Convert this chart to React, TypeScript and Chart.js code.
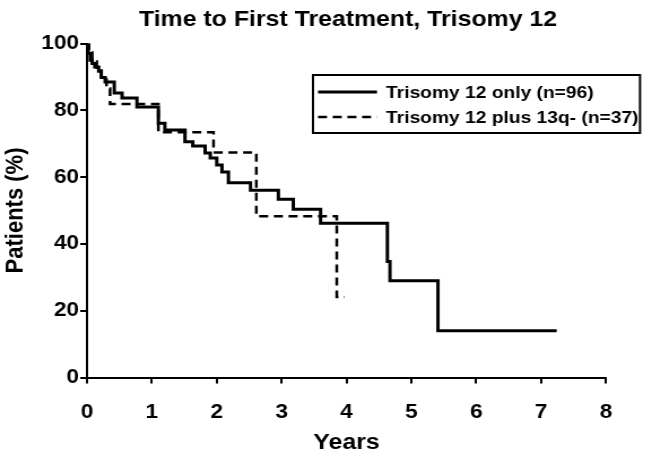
import React, { useEffect, useRef } from 'react';
import { Chart, registerables } from 'chart.js';

Chart.register(...registerables);

// ---------- data ----------
const titleText = 'Time to First Treatment, Trisomy 12';
const xTitle = 'Years';
const yTitle = 'Patients (%)';
const seriesLabels = ['Trisomy 12 only (n=96)', 'Trisomy 12 plus 13q- (n=37)'];

const xTickValues = [0, 1, 2, 3, 4, 5, 6, 7, 8];
const yTickValues = [0, 20, 40, 60, 80, 100];

const onlyTimes = [0, 0.02, 0.05, 0.08, 0.12, 0.18, 0.22, 0.28, 0.42, 0.54, 0.77, 1.1, 1.2, 1.51, 1.63, 1.82, 1.9, 2.0, 2.08, 2.18, 2.52, 2.95, 3.18, 3.6, 4.63, 4.67, 5.41, 7.24];
const onlySurv = [100, 97, 95, 94, 93, 91.7, 89.8, 88.5, 85.2, 83.7, 81.0, 76.1, 74.1, 70.6, 69.3, 67.2, 65.7, 63.6, 61.5, 58.3, 56.1, 53.4, 50.4, 46.2, 34.7, 29.0, 14.0, 14.0];

const plusTimes = [0, 0.03, 0.08, 0.15, 0.22, 0.3, 0.355, 1.1, 1.95, 2.61, 3.85, 3.97];
const plusSurv = [100, 97.3, 94.6, 91.9, 89.2, 86.5, 81.9, 73.4, 67.4, 48.3, 24.1, 24.1];

// ---------- layout ----------
const K = 1.13; // horizontal stretch of the reference
const W = Math.round(652 / K);
const H = 455;
const FONT = '"Liberation Sans", Arial, Helvetica, sans-serif';

const toPoints = (xs: number[], ys: number[]) => xs.map((x, i) => ({ x, y: ys[i] }));

const overlayPlugin = {
  id: 'overlay',
  afterDraw(chart: any) {
    const ctx = chart.ctx as CanvasRenderingContext2D;
    ctx.save();
    ctx.fillStyle = '#000';
    ctx.strokeStyle = '#000';
    // title
    ctx.font = `bold 22px ${FONT}`;
    ctx.textAlign = 'center';
    ctx.textBaseline = 'middle';
    ctx.fillText(titleText, 348 / K, 20);
    // legend box
    const bx = 313 / K, by = 75, bw = (640 - 313) / K, bh = 58;
    ctx.lineWidth = 2;
    ctx.setLineDash([]);
    ctx.strokeRect(bx, by, bw, bh);
    const rows = [92, 117];
    ctx.font = `bold 17px ${FONT}`;
    ctx.textAlign = 'left';
    chart.data.datasets.forEach((ds: any, i: number) => {
      const y = rows[i];
      ctx.beginPath();
      ctx.lineWidth = ds.borderWidth;
      ctx.setLineDash(ds.borderDash || []);
      ctx.moveTo(318 / K, y);
      ctx.lineTo(377 / K, y);
      ctx.stroke();
      ctx.setLineDash([]);
      ctx.fillText(ds.label, 386 / K, y + 1);
    });
    ctx.restore();
  },
};

export default function App() {
  const ref = useRef<HTMLCanvasElement | null>(null);

  useEffect(() => {
    document.body.style.margin = '0';
    const canvas = ref.current!;
    const tickFont = { family: FONT, size: 20, weight: 'bold' as const, lineHeight: 1.2 };
    const chart = new Chart(canvas, {
      type: 'line',
      data: {
        datasets: [
          {
            label: seriesLabels[0],
            data: toPoints(onlyTimes, onlySurv),
            borderColor: '#000',
            borderWidth: 3,
            stepped: 'before',
            pointRadius: 0,
            fill: false,
          },
          {
            label: seriesLabels[1],
            data: toPoints(plusTimes, plusSurv),
            borderColor: '#000',
            borderWidth: 2.5,
            borderDash: [8, 5],
            stepped: 'before',
            pointRadius: 0,
            fill: false,
          },
        ],
      },
      options: {
        responsive: false,
        animation: false,
        devicePixelRatio: 1,
        layout: { padding: { top: 43.5, right: W - 606 / K, left: 0, bottom: 0 } },
        plugins: {
          legend: { display: false },
          title: { display: false },
          tooltip: { enabled: false },
        },
        scales: {
          x: {
            type: 'linear',
            min: 0,
            max: 8,
            afterFit: (s: any) => { s.height = H - 377.5; },
            afterBuildTicks: (s: any) => { s.ticks = xTickValues.map((v) => ({ value: v })); },
            ticks: { font: tickFont, color: '#000', padding: 17, maxRotation: 0, autoSkip: false },
            grid: { drawOnChartArea: false, tickLength: 6, color: '#000', lineWidth: 2 },
            border: { display: true, color: '#000', width: 2 },
            title: {
              display: true,
              text: xTitle,
              color: '#000',
              font: { family: FONT, size: 22, weight: 'bold', lineHeight: 1 },
              padding: { top: 0, bottom: 1 },
            },
          },
          y: {
            type: 'linear',
            min: 0,
            max: 100,
            afterFit: (s: any) => { s.width = 87 / K; },
            afterBuildTicks: (s: any) => { s.ticks = yTickValues.map((v) => ({ value: v })); },
            ticks: { font: tickFont, color: '#000', padding: 1, autoSkip: false },
            grid: { drawOnChartArea: false, tickLength: 6, color: '#000', lineWidth: 2 },
            border: { display: true, color: '#000', width: 2 },
            title: {
              display: true,
              text: yTitle,
              color: '#000',
              font: { family: FONT, size: 22, weight: 'bold', lineHeight: 1 },
              padding: { top: 3, bottom: 0 },
            },
          },
        },
      },
      plugins: [overlayPlugin],
    } as any);
    return () => chart.destroy();
  }, []);

  return (
    <div style={{ width: 652, height: H, overflow: 'hidden', background: '#fff' }}>
      <div style={{ width: W, height: H, transform: `scaleX(${K})`, transformOrigin: '0 0' }}>
        <canvas ref={ref} width={W} height={H} style={{ display: 'block' }} />
      </div>
    </div>
  );
}
